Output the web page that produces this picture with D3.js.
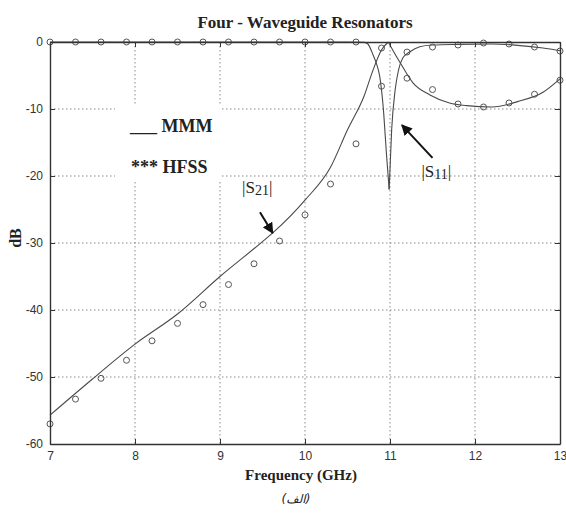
<!DOCTYPE html>
<html>
<head>
<meta charset="utf-8">
<script src="https://cdn.jsdelivr.net/npm/d3@7"></script>
<style>
  body { margin: 0; background: #fff; }
  svg text { fill: #222; }
  .tick text { font-family: "Liberation Sans", Arial, sans-serif; font-size: 12px; fill: #333; }
  .grid line { stroke: #8a8a8a; stroke-dasharray: 1.5,2.5; stroke-width: 1; }
</style>
</head>
<body>
<svg id="chart" width="566" height="514"></svg>
<script>
// tick values
const freqTicks = [7, 8, 9, 10, 11, 12, 13];
const dbTicks = [0, -10, -20, -30, -40, -50, -60];

// MMM (solid line) |S21|, split at the peak near 11 GHz
const mmmS21FreqA = [7.0, 7.5, 8.0, 8.5, 9.0, 9.5, 9.62, 10.0, 10.3, 10.5, 10.7, 10.8, 10.9, 10.98];
const mmmS21A = [-55.7, -50.3, -45.1, -40.6, -35.0, -29.8, -28.5, -23.6, -18.7, -13.1, -7.9, -4.2, -1.2, 0];
const mmmS21FreqB = [10.98, 11.05, 11.12, 11.27, 11.47, 11.7, 11.9, 12.2, 12.5, 12.8, 13.0];
const mmmS21B = [0, -1.6, -3.1, -6.1, -7.9, -9.1, -9.5, -9.7, -8.9, -7.5, -5.5];

// MMM |S11|, split at the dip
const mmmS11FreqA = [7.0, 8.0, 9.0, 10.0, 10.5, 10.7, 10.74, 10.8, 10.84, 10.88, 10.92, 10.96, 10.99];
const mmmS11A = [0, 0, 0, 0, 0, -0.05, -0.3, -1.9, -3.2, -5.2, -9.7, -17, -22];
const mmmS11FreqB = [10.99, 11.02, 11.06, 11.1, 11.15, 11.23, 11.35, 11.5, 11.8, 12.2, 12.5, 12.8, 13.0];
const mmmS11B = [-22, -13, -7.2, -4.2, -2.4, -1.5, -0.7, -0.45, -0.35, -0.3, -0.5, -0.9, -1.3];

// HFSS markers
const hfssFreq = [7.0, 7.3, 7.6, 7.9, 8.2, 8.5, 8.8, 9.1, 9.4, 9.7, 10.0, 10.3, 10.6, 10.9, 11.2, 11.5, 11.8, 12.1, 12.4, 12.7, 13.0];
const hfssS21 = [-57.0, -53.3, -50.2, -47.5, -44.6, -42.0, -39.2, -36.2, -33.1, -29.7, -25.8, -21.2, -15.2, -0.9, -5.4, -7.1, -9.25, -9.7, -9.1, -7.8, -5.7];
const hfssS11 = [0, 0, 0, 0, 0, 0, 0, 0, 0, 0, 0, 0, 0, -6.6, -1.5, -0.75, -0.45, -0.15, -0.3, -0.75, -1.35];

const svg = d3.select('#chart');
const x = d3.scaleLinear().domain([7, 13]).range([50, 560]);
const y = d3.scaleLinear().domain([-60, 0]).range([444, 42]);

// grid
const grid = svg.append('g').attr('class', 'grid');
freqTicks.slice(1, -1).forEach(f => {
  grid.append('line').attr('x1', x(f)).attr('x2', x(f)).attr('y1', y(0)).attr('y2', y(-60));
});
dbTicks.slice(1, -1).forEach(v => {
  grid.append('line').attr('x1', x(7)).attr('x2', x(13)).attr('y1', y(v)).attr('y2', y(v));
});

// legend box hides the grid behind it
svg.append('rect').attr('x', 115).attr('y', 106).attr('width', 107).attr('height', 74).attr('fill', '#fff');

// curves
const line = d3.line().x(d => x(d[0])).y(d => y(d[1])).curve(d3.curveMonotoneX);
const pieces = [
  [mmmS21FreqA, mmmS21A], [mmmS21FreqB, mmmS21B],
  [mmmS11FreqA, mmmS11A], [mmmS11FreqB, mmmS11B]
];
pieces.forEach(([fs, vs]) => {
  svg.append('path')
    .datum(fs.map((f, i) => [f, vs[i]]))
    .attr('d', line)
    .attr('fill', 'none')
    .attr('stroke', '#4a4a4a')
    .attr('stroke-width', 1.1);
});

// HFSS markers
[hfssS21, hfssS11].forEach(vals => {
  svg.append('g').selectAll('circle')
    .data(hfssFreq.map((f, i) => [f, vals[i]]))
    .join('circle')
    .attr('cx', d => x(d[0]))
    .attr('cy', d => y(d[1]))
    .attr('r', 3)
    .attr('fill', 'none')
    .attr('stroke', '#555')
    .attr('stroke-width', 1);
});

// axes, ticks inward like matlab
const fmt = d => String(d);
svg.append('g').attr('transform', `translate(0,${y(-60)})`)
  .call(d3.axisBottom(x).tickValues(freqTicks).tickFormat(fmt).tickSizeInner(-5).tickSizeOuter(0).tickPadding(7));
svg.append('g').attr('transform', `translate(${x(7)},0)`)
  .call(d3.axisLeft(y).tickValues(dbTicks).tickFormat(fmt).tickSizeInner(-5).tickSizeOuter(0).tickPadding(7));
svg.append('g').attr('transform', `translate(0,${y(0)})`)
  .call(d3.axisTop(x).tickValues(freqTicks).tickFormat('').tickSizeInner(-5).tickSizeOuter(0));
svg.append('g').attr('transform', `translate(${x(13)},0)`)
  .call(d3.axisRight(y).tickValues(dbTicks).tickFormat('').tickSizeInner(-5).tickSizeOuter(0));
svg.selectAll('.domain').attr('stroke', '#333').attr('stroke-width', 1.4);
svg.selectAll('.tick line').attr('stroke', '#333');

// title and labels
svg.append('text').attr('x', 305).attr('y', 28).attr('text-anchor', 'middle')
  .style('font', 'bold 17px "Liberation Serif", serif').text('Four - Waveguide Resonators');
svg.append('text').attr('transform', 'translate(21,238) rotate(-90)').attr('text-anchor', 'middle')
  .style('font', 'bold 16px "Liberation Serif", serif').text('dB');
svg.append('text').attr('x', 301).attr('y', 480).attr('text-anchor', 'middle')
  .style('font', 'bold 15px "Liberation Serif", serif').text('Frequency (GHz)');
svg.append('text').attr('x', 296).attr('y', 503).attr('text-anchor', 'middle')
  .style('font', 'italic 12px "DejaVu Sans", sans-serif').text('(الف)');

// legend
svg.append('text').attr('x', 130).attr('y', 132)
  .style('font', 'bold 18px "Liberation Serif", serif').text('___ MMM');
svg.append('text').attr('x', 131).attr('y', 173)
  .style('font', 'bold 18px "Liberation Serif", serif').text('*** HFSS');

// annotations with arrows
svg.append('defs').append('marker')
  .attr('id', 'head').attr('viewBox', '0 0 10 10').attr('refX', 9).attr('refY', 5)
  .attr('markerWidth', 5.5).attr('markerHeight', 5.5).attr('orient', 'auto')
  .append('path').attr('d', 'M0,0L10,5L0,10z').attr('fill', '#111');

function label(fx, v, sub) {
  const t = svg.append('text').attr('x', x(fx)).attr('y', y(v))
    .style('font', '17px "Liberation Serif", serif');
  t.append('tspan').text('|S');
  t.append('tspan').attr('dy', 2).style('font-size', '14px').text(sub);
  t.append('tspan').attr('dy', -2).text('|');
}
function arrow(f1, v1, f2, v2) {
  svg.append('line').attr('x1', x(f1)).attr('y1', y(v1)).attr('x2', x(f2)).attr('y2', y(v2))
    .attr('stroke', '#111').attr('stroke-width', 2).attr('marker-end', 'url(#head)');
}
label(9.26, -22.6, '21');
arrow(9.47, -25.4, 9.62, -28.5);
label(11.37, -20.2, '11');
arrow(11.5, -17.3, 11.14, -12.4);
</script>
</body>
</html>
